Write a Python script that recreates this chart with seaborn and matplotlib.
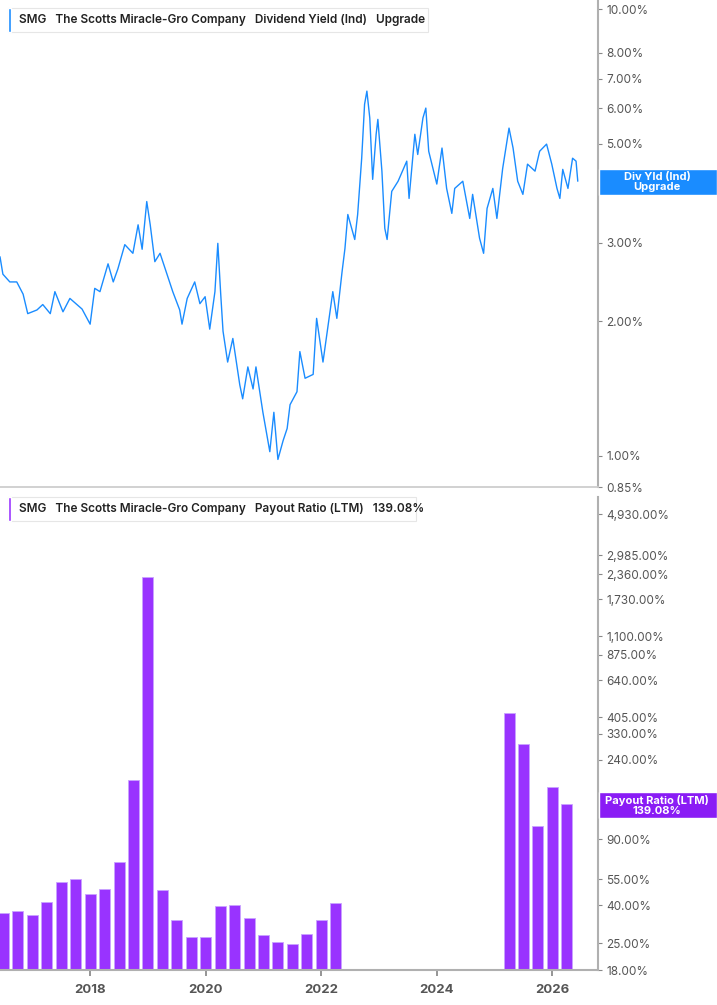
import matplotlib
matplotlib.use("Agg")
import matplotlib.pyplot as plt
import seaborn as sns
import pandas as pd
from matplotlib.ticker import FixedLocator, NullLocator, FixedFormatter

sns.set_theme(style="white")
plt.rcParams['font.family'] = ['Inter', 'DejaVu Sans']

yield_dates = [2016.44, 2016.49, 2016.61, 2016.73, 2016.84, 2016.92, 2017.08, 2017.18, 2017.31, 2017.39,
               2017.53, 2017.65, 2017.86, 2018.00, 2018.08, 2018.17, 2018.31, 2018.40, 2018.48, 2018.60,
               2018.74, 2018.83, 2018.90, 2018.98, 2019.04, 2019.12, 2019.21, 2019.33, 2019.43, 2019.55,
               2019.59, 2019.68, 2019.81, 2019.90, 2019.99, 2020.07, 2020.16, 2020.21, 2020.26, 2020.30,
               2020.38, 2020.47, 2020.59, 2020.64, 2020.73, 2020.82, 2020.87, 2020.99, 2021.11, 2021.18,
               2021.25, 2021.34, 2021.41, 2021.46, 2021.58, 2021.63, 2021.72, 2021.86, 2021.92, 2022.03,
               2022.20, 2022.27, 2022.36, 2022.41, 2022.46, 2022.58, 2022.63, 2022.70, 2022.75, 2022.79,
               2022.84, 2022.89, 2022.95, 2022.98, 2023.05, 2023.10, 2023.14, 2023.22, 2023.33, 2023.48,
               2023.52, 2023.62, 2023.67, 2023.76, 2023.81, 2023.86, 2024.00, 2024.09, 2024.17, 2024.26,
               2024.31, 2024.45, 2024.57, 2024.62, 2024.74, 2024.81, 2024.87, 2024.97, 2025.04, 2025.14,
               2025.25, 2025.32, 2025.40, 2025.49, 2025.57, 2025.70, 2025.78, 2025.90, 2025.99, 2026.08,
               2026.13, 2026.18, 2026.27, 2026.35, 2026.41, 2026.44]
yield_pct = [2.79, 2.55, 2.45, 2.45, 2.30, 2.08, 2.12, 2.18, 2.08, 2.33,
             2.10, 2.25, 2.13, 1.97, 2.37, 2.33, 2.69, 2.45, 2.62, 2.97,
             2.84, 3.29, 2.90, 3.71, 3.29, 2.72, 2.84, 2.55, 2.33, 2.12,
             1.97, 2.25, 2.45, 2.19, 2.27, 1.92, 2.33, 2.99, 2.30, 1.90,
             1.62, 1.83, 1.44, 1.34, 1.58, 1.41, 1.58, 1.25, 1.02, 1.25,
             0.98, 1.08, 1.15, 1.30, 1.39, 1.71, 1.49, 1.52, 2.03, 1.62,
             2.33, 2.03, 2.58, 2.91, 3.47, 3.05, 3.47, 4.64, 6.13, 6.56,
             5.71, 4.16, 5.25, 5.67, 4.34, 3.23, 3.05, 3.91, 4.12, 4.57,
             3.77, 5.25, 4.73, 5.71, 6.01, 4.81, 4.06, 4.89, 3.97, 3.49,
             3.97, 4.12, 3.40, 3.85, 3.07, 2.84, 3.58, 3.97, 3.40, 4.40,
             5.42, 4.89, 4.12, 3.85, 4.50, 4.34, 4.81, 4.99, 4.50, 3.97,
             3.77, 4.38, 3.97, 4.64, 4.57, 4.12]

payout_dates = [2016.50, 2016.75, 2017.00, 2017.25, 2017.50, 2017.75, 2018.00, 2018.25, 2018.50, 2018.75,
                2019.00, 2019.25, 2019.50, 2019.75, 2020.00, 2020.25, 2020.50, 2020.75, 2021.00, 2021.25,
                2021.50, 2021.75, 2022.00, 2022.25, 2025.25, 2025.50, 2025.75, 2026.00, 2026.25]
payout_pct = [36.3, 37.2, 35.6, 41.6, 53.3, 55.0, 46.0, 49.0, 68.0, 188.0,
              2270.0, 48.0, 33.2, 27.0, 27.0, 39.7, 40.0, 34.0, 27.6, 25.4,
              24.8, 28.0, 33.3, 41.0, 424.0, 290.0, 106.0, 171.0, 139.08]

top_ticks = [0.85, 1, 2, 3, 4, 5, 6, 7, 8, 10]
bot_ticks = [18, 25, 40, 55, 90, 125, 240, 330, 405, 640, 875, 1100, 1730, 2360, 2985, 4930]
year_ticks = [2018, 2020, 2022, 2024, 2026]

BLUE = "#1a8cff"
PURPLE = "#9933ff"
GRAY = "#555555"
XMIN, XMAX = 2016.44, 2026.79

fig = plt.figure(figsize=(7.17, 10.05), dpi=100)
ax1 = fig.add_axes([0.0, 1 - 487 / 1005, 598 / 717, 487 / 1005])
ax2 = fig.add_axes([0.0, 1 - 970 / 1005, 598 / 717, (970 - 497) / 1005])

df1 = pd.DataFrame({"date": yield_dates, "y": yield_pct})
sns.lineplot(data=df1, x="date", y="y", ax=ax1, color=BLUE, linewidth=1.0)
ax1.set_yscale("log")
ax1.set_ylim(0.85, 10.5)

ax2.set_yscale("log")
df2 = pd.DataFrame({"date": payout_dates, "y": payout_pct})
sns.barplot(data=df2, x="date", y="y", ax=ax2, native_scale=True, color=PURPLE,
            saturation=1, width=0.76, edgecolor="#c9a3ff", linewidth=0.6)
ax2.set_ylim(18, 6100)

for ax, ticks in ((ax1, top_ticks), (ax2, bot_ticks)):
    ax.set_xlim(XMIN, XMAX)
    ax.set_xlabel("")
    ax.set_ylabel("")
    ax.yaxis.tick_right()
    ax.yaxis.set_major_locator(FixedLocator(ticks))
    ax.yaxis.set_minor_locator(NullLocator())
    ax.yaxis.set_major_formatter(FixedFormatter([f"{t:,.2f}%" for t in ticks]))
    ax.tick_params(axis="y", right=True, length=3, width=0.8, color="#888888",
                   labelsize=8.5, labelcolor=GRAY, pad=3)
    for s in ("top", "left"):
        ax.spines[s].set_visible(False)
    ax.spines["right"].set_color("#b0b0b0")
    ax.spines["right"].set_linewidth(1.5)
    ax.spines["bottom"].set_color("#cccccc")

ax1.set_xticks([])
ax2.set_xticks(year_ticks)
ax2.set_xticklabels([str(y) for y in year_ticks])
ax2.tick_params(axis="x", bottom=True, length=4, color="#888888", labelsize=9.5,
                labelcolor=GRAY, pad=6)
for lab in ax2.get_xticklabels():
    lab.set_fontweight("bold")
ax2.spines["bottom"].set_color("#b0b0b0")
ax2.spines["bottom"].set_linewidth(1.5)

def title_box(ypix, text, color, width_px):
    fig.patches.append(plt.Rectangle((8 / 717, 1 - (ypix + 12) / 1005), width_px / 717, 24 / 1005,
                                     transform=fig.transFigure, facecolor="white",
                                     edgecolor="#e6e6e6", linewidth=0.8, zorder=5))
    fig.patches.append(plt.Rectangle((8 / 717, 1 - (ypix + 12) / 1005), 3 / 717, 24 / 1005,
                                     transform=fig.transFigure, facecolor=color, zorder=6))
    fig.text(19 / 717, 1 - ypix / 1005, text, fontsize=8.5, fontweight="semibold",
             color="#222222", va="center", ha="left", zorder=7)

title_box(20, "SMG   The Scotts Miracle-Gro Company   Dividend Yield (Ind)   Upgrade", BLUE, 420)
title_box(509, "SMG   The Scotts Miracle-Gro Company   Payout Ratio (LTM)   139.08%", PURPLE, 408)

def value_box(ytop, ybot, lines, color):
    fig.patches.append(plt.Rectangle((599 / 717, 1 - ybot / 1005), 118 / 717, (ybot - ytop) / 1005,
                                     transform=fig.transFigure, facecolor=color, zorder=5))
    fig.text(657 / 717, 1 - (ytop + ybot) / 2 / 1005, lines, fontsize=8, fontweight="bold",
             color="white", ha="center", va="center", linespacing=1.0, zorder=6)

value_box(169, 195, "Div Yld (Ind)\nUpgrade", BLUE)
value_box(792, 818, "Payout Ratio (LTM)\n139.08%", "#8a1cf5")

fig.savefig("out.png", dpi=100)
